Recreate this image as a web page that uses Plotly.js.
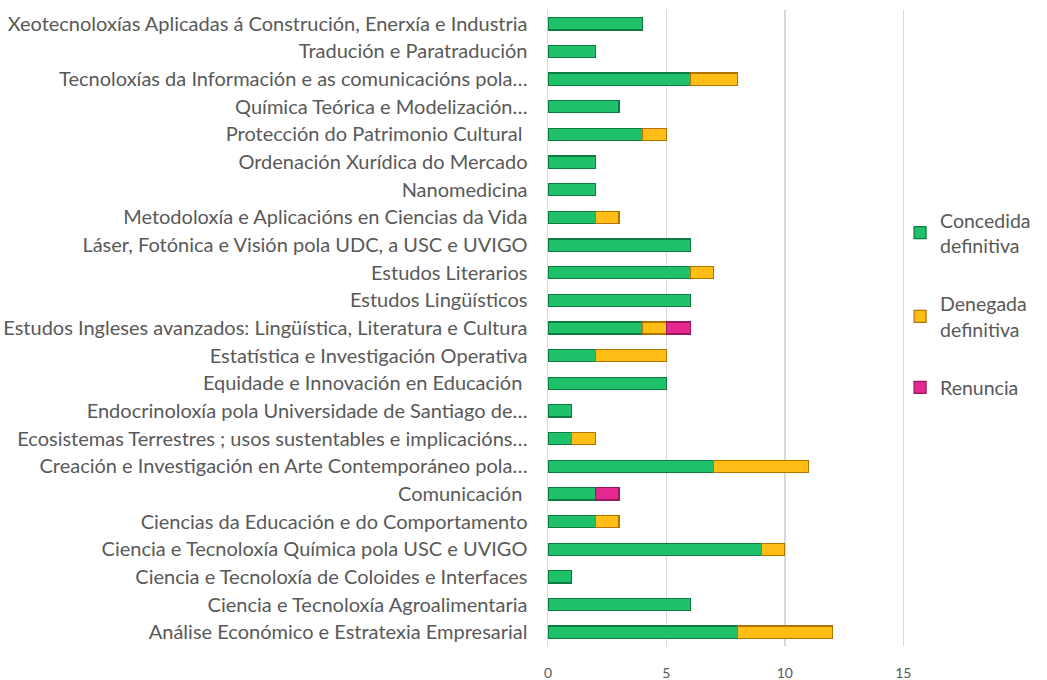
<!DOCTYPE html>
<html><head><meta charset="utf-8">
<script src="https://cdn.plot.ly/plotly-3.0.1.min.js"></script>
<style>html,body{margin:0;padding:0;background:#fff}#chart{width:1047px;height:680px}</style>
</head><body><div id="chart"></div>
<script>
const categories = [
  "Análise Económico e Estratexia Empresarial",
  "Ciencia e Tecnoloxía Agroalimentaria",
  "Ciencia e Tecnoloxía de Coloides e Interfaces",
  "Ciencia e Tecnoloxía Química pola USC e UVIGO",
  "Ciencias da Educación e do Comportamento",
  "Comunicación ",
  "Creación e Investigación en Arte Contemporáneo pola…",
  "Ecosistemas Terrestres ; usos sustentables e implicacións…",
  "Endocrinoloxía pola Universidade de Santiago de…",
  "Equidade e Innovación en Educación ",
  "Estatística e Investigación Operativa",
  "Estudos Ingleses avanzados: Lingüística, Literatura e Cultura",
  "Estudos Lingüísticos",
  "Estudos Literarios",
  "Láser, Fotónica e Visión pola UDC, a USC e UVIGO",
  "Metodoloxía e Aplicacións en Ciencias da Vida",
  "Nanomedicina",
  "Ordenación Xurídica do Mercado",
  "Protección do Patrimonio Cultural ",
  "Química Teórica e Modelización…",
  "Tecnoloxías da Información e as comunicacións pola…",
  "Tradución e Paratradución",
  "Xeotecnoloxías Aplicadas á Construción, Enerxía e Industria"
];
const concedida = [8,6,1,9,2,2,7,1,1,5,2,4,6,6,6,2,2,2,4,3,6,2,4];
const denegada  = [4,0,0,1,1,0,4,1,0,0,3,1,0,1,0,1,0,0,1,0,2,0,0];
const renuncia  = [0,0,0,0,0,1,0,0,0,0,0,1,0,0,0,0,0,0,0,0,0,0,0];
const seriesNames = ["Concedida<br>definitiva","Denegada<br>definitiva","Renuncia"];
const xTicks = [0,5,10,15];

const fills = ["#1fc26a","#ffbd16","#e4288e"];
const edges = ["#0f7a42","#b07400","#9a165e"];
const vals = [concedida, denegada, renuncia];
const traces = vals.map((v,i)=>({
  type:"bar", orientation:"h", name:seriesNames[i], legendgroup:"g"+i,
  y:categories, x:v.map(d => d === 0 ? null : d),
  marker:{color:fills[i], line:{color:edges[i], width:1.2}},
  hoverinfo:"x+name"
}));
const font = "Lato, 'Open Sans', sans-serif";
const layout = {
  width:1047, height:680,
  margin:{l:548, r:139, t:10, b:34},
  barmode:"stack", bargap:0.56,
  paper_bgcolor:"#fff", plot_bgcolor:"#fff",
  font:{family:font, color:"#595959"},
  xaxis:{range:[0,15.2], tickvals:xTicks, ticktext:xTicks.map(String),
    showgrid:true, gridcolor:"#d9d9d9", gridwidth:1.5, zeroline:false,
    showline:false, ticks:"", ticklabelstandoff:17,
    tickfont:{size:14, color:"#595959", family:font}},
  yaxis:{type:"category", categoryorder:"array", categoryarray:categories,
    showgrid:false, zeroline:false, showline:true, linecolor:"#d9d9d9", linewidth:1.5,
    ticks:"", ticklabelstandoff:15, automargin:false,
    tickfont:{size:20, color:"#595959", family:font}},
  legend:{x:0.978, xanchor:"left", y:0.538, yanchor:"middle", traceorder:"grouped",
    font:{size:19.5, color:"#595959", family:font}, tracegroupgap:30,
    itemwidth:30, bgcolor:"rgba(0,0,0,0)"},
  showlegend:true
};
Plotly.newPlot("chart", traces, layout, {displayModeBar:false, staticPlot:true});
</script></body></html>
